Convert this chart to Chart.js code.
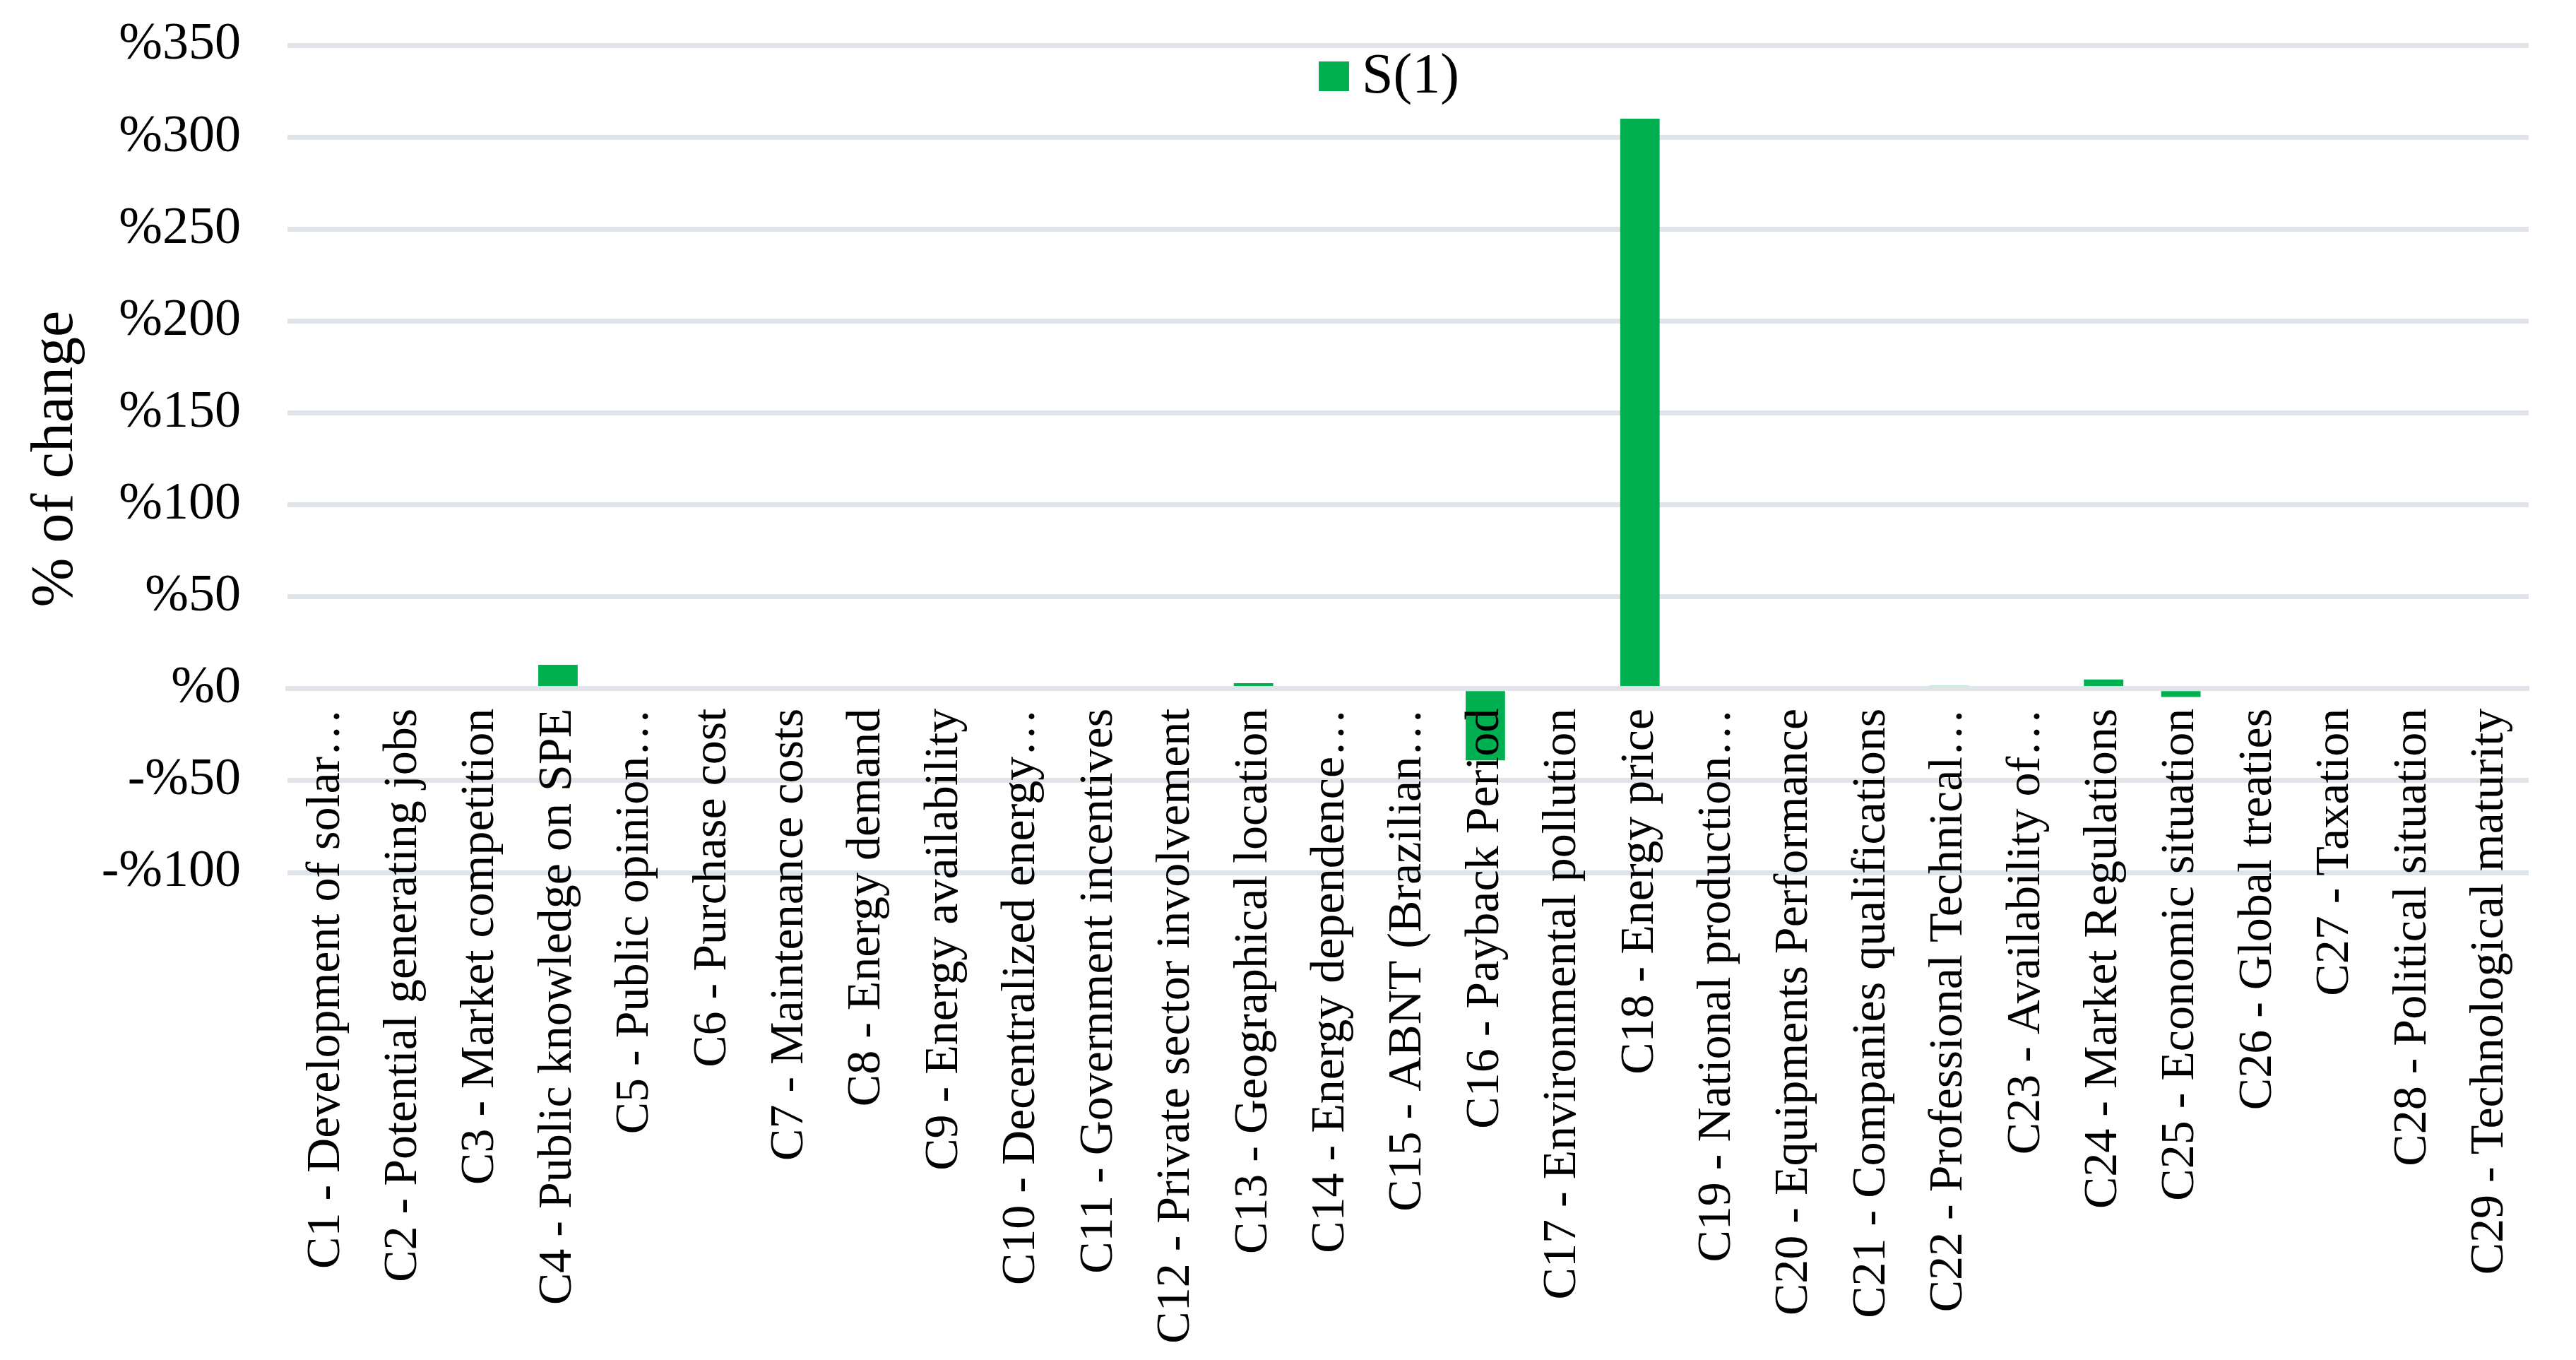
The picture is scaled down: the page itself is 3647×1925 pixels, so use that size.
<!DOCTYPE html>
<html>
<head>
<meta charset="utf-8">
<script src="https://cdn.jsdelivr.net/npm/chart.js@4.4.1/dist/chart.umd.min.js"></script>
<style>
  html, body { margin: 0; padding: 0; background: #ffffff; }
  #wrap { width: 3647px; height: 1925px; }
</style>
</head>
<body>
<div id="wrap"><canvas id="c" width="3647" height="1925"></canvas></div>
<script>
const categories = [
  "C1 - Development of solar\u2026",
  "C2 - Potential generating jobs",
  "C3 - Market competition",
  "C4 - Public knowledge on SPE",
  "C5 - Public opinion\u2026",
  "C6 - Purchase cost",
  "C7 - Maintenance costs",
  "C8 - Energy demand",
  "C9 - Energy availability",
  "C10 - Decentralized energy\u2026",
  "C11 - Government incentives",
  "C12 - Private sector involvement",
  "C13 - Geographical location",
  "C14 - Energy dependence\u2026",
  "C15 - ABNT (Brazilian\u2026",
  "C16 - Payback Period",
  "C17 - Environmental pollution",
  "C18 - Energy price",
  "C19 - National production\u2026",
  "C20 - Equipments Performance",
  "C21 - Companies qualifications",
  "C22 - Professional Technical\u2026",
  "C23 - Availability of\u2026",
  "C24 - Market Regulations",
  "C25 - Economic situation",
  "C26 - Global treaties",
  "C27 - Taxation",
  "C28 - Political situation",
  "C29 - Technological maturity"
];
const seriesName = "S(1)";
const seriesValues = [0, 0, 0, 13, 0, 0, 0, 0, 0, 0, 0, 0, 3, 0, 0, -39, 0, 310, 0, 0, 0, 1.5, 0, 5, -4.5, 0, 0, 0, 0];
const yTickMin = -100;
const yTickMax = 350;
const yTickStep = 50;
const yAxisTitle = "% of change";

const FONT = "'Liberation Serif', 'Times New Roman', serif";
const GREEN = "#00B050";
const GRID = "#DEE4EA";

const legendPlugin = {
  id: 'insideLegend',
  afterDraw(chart) {
    const ctx = chart.ctx;
    const ds = chart.data.datasets[0];
    ctx.save();
    ctx.fillStyle = ds.backgroundColor;
    ctx.fillRect(1867, 87, 43, 42);
    ctx.fillStyle = '#000000';
    ctx.font = "80px " + FONT;
    ctx.textAlign = 'left';
    ctx.textBaseline = 'middle';
    ctx.fillText(ds.label, 1928, 110);
    ctx.restore();
  }
};

new Chart(document.getElementById('c'), {
  type: 'bar',
  data: {
    labels: categories,
    datasets: [{
      label: seriesName,
      data: seriesValues,
      backgroundColor: GREEN,
      borderWidth: 0,
      categoryPercentage: 1.0,
      barPercentage: 0.51
    }]
  },
  options: {
    responsive: false,
    devicePixelRatio: 1,
    animation: false,
    layout: { padding: { top: 64, bottom: 690, left: 0, right: 67 } },
    plugins: { legend: { display: false }, tooltip: { enabled: false } },
    scales: {
      x: {
        position: { y: 0 },
        grid: { display: false, drawTicks: false },
        border: { display: true, color: GRID, width: 7, z: 1 },
        ticks: {
          autoSkip: false,
          minRotation: 90,
          maxRotation: 90,
          padding: 28,
          color: '#000000',
          z: 1,
          font: { family: FONT, size: 68 }
        },
        afterFit(scale) { scale.paddingLeft = 0; scale.paddingRight = 0; }
      },
      y: {
        min: yTickMin,
        max: yTickMax,
        grid: { color: GRID, lineWidth: 7, drawTicks: false },
        border: { display: false },
        ticks: {
          stepSize: yTickStep,
          padding: 66,
          color: '#000000',
          font: { family: FONT, size: 74 },
          callback: (v) => (v < 0 ? '-%' + Math.abs(v) : '%' + v)
        },
        title: {
          display: true,
          text: yAxisTitle,
          color: '#000000',
          font: { family: FONT, size: 84 },
          padding: { top: 30, bottom: 0 }
        },
        afterFit(scale) { scale.width = 407; scale.paddingTop = 0; scale.paddingBottom = 0; }
      }
    }
  },
  plugins: [legendPlugin]
});
</script>
</body>
</html>
